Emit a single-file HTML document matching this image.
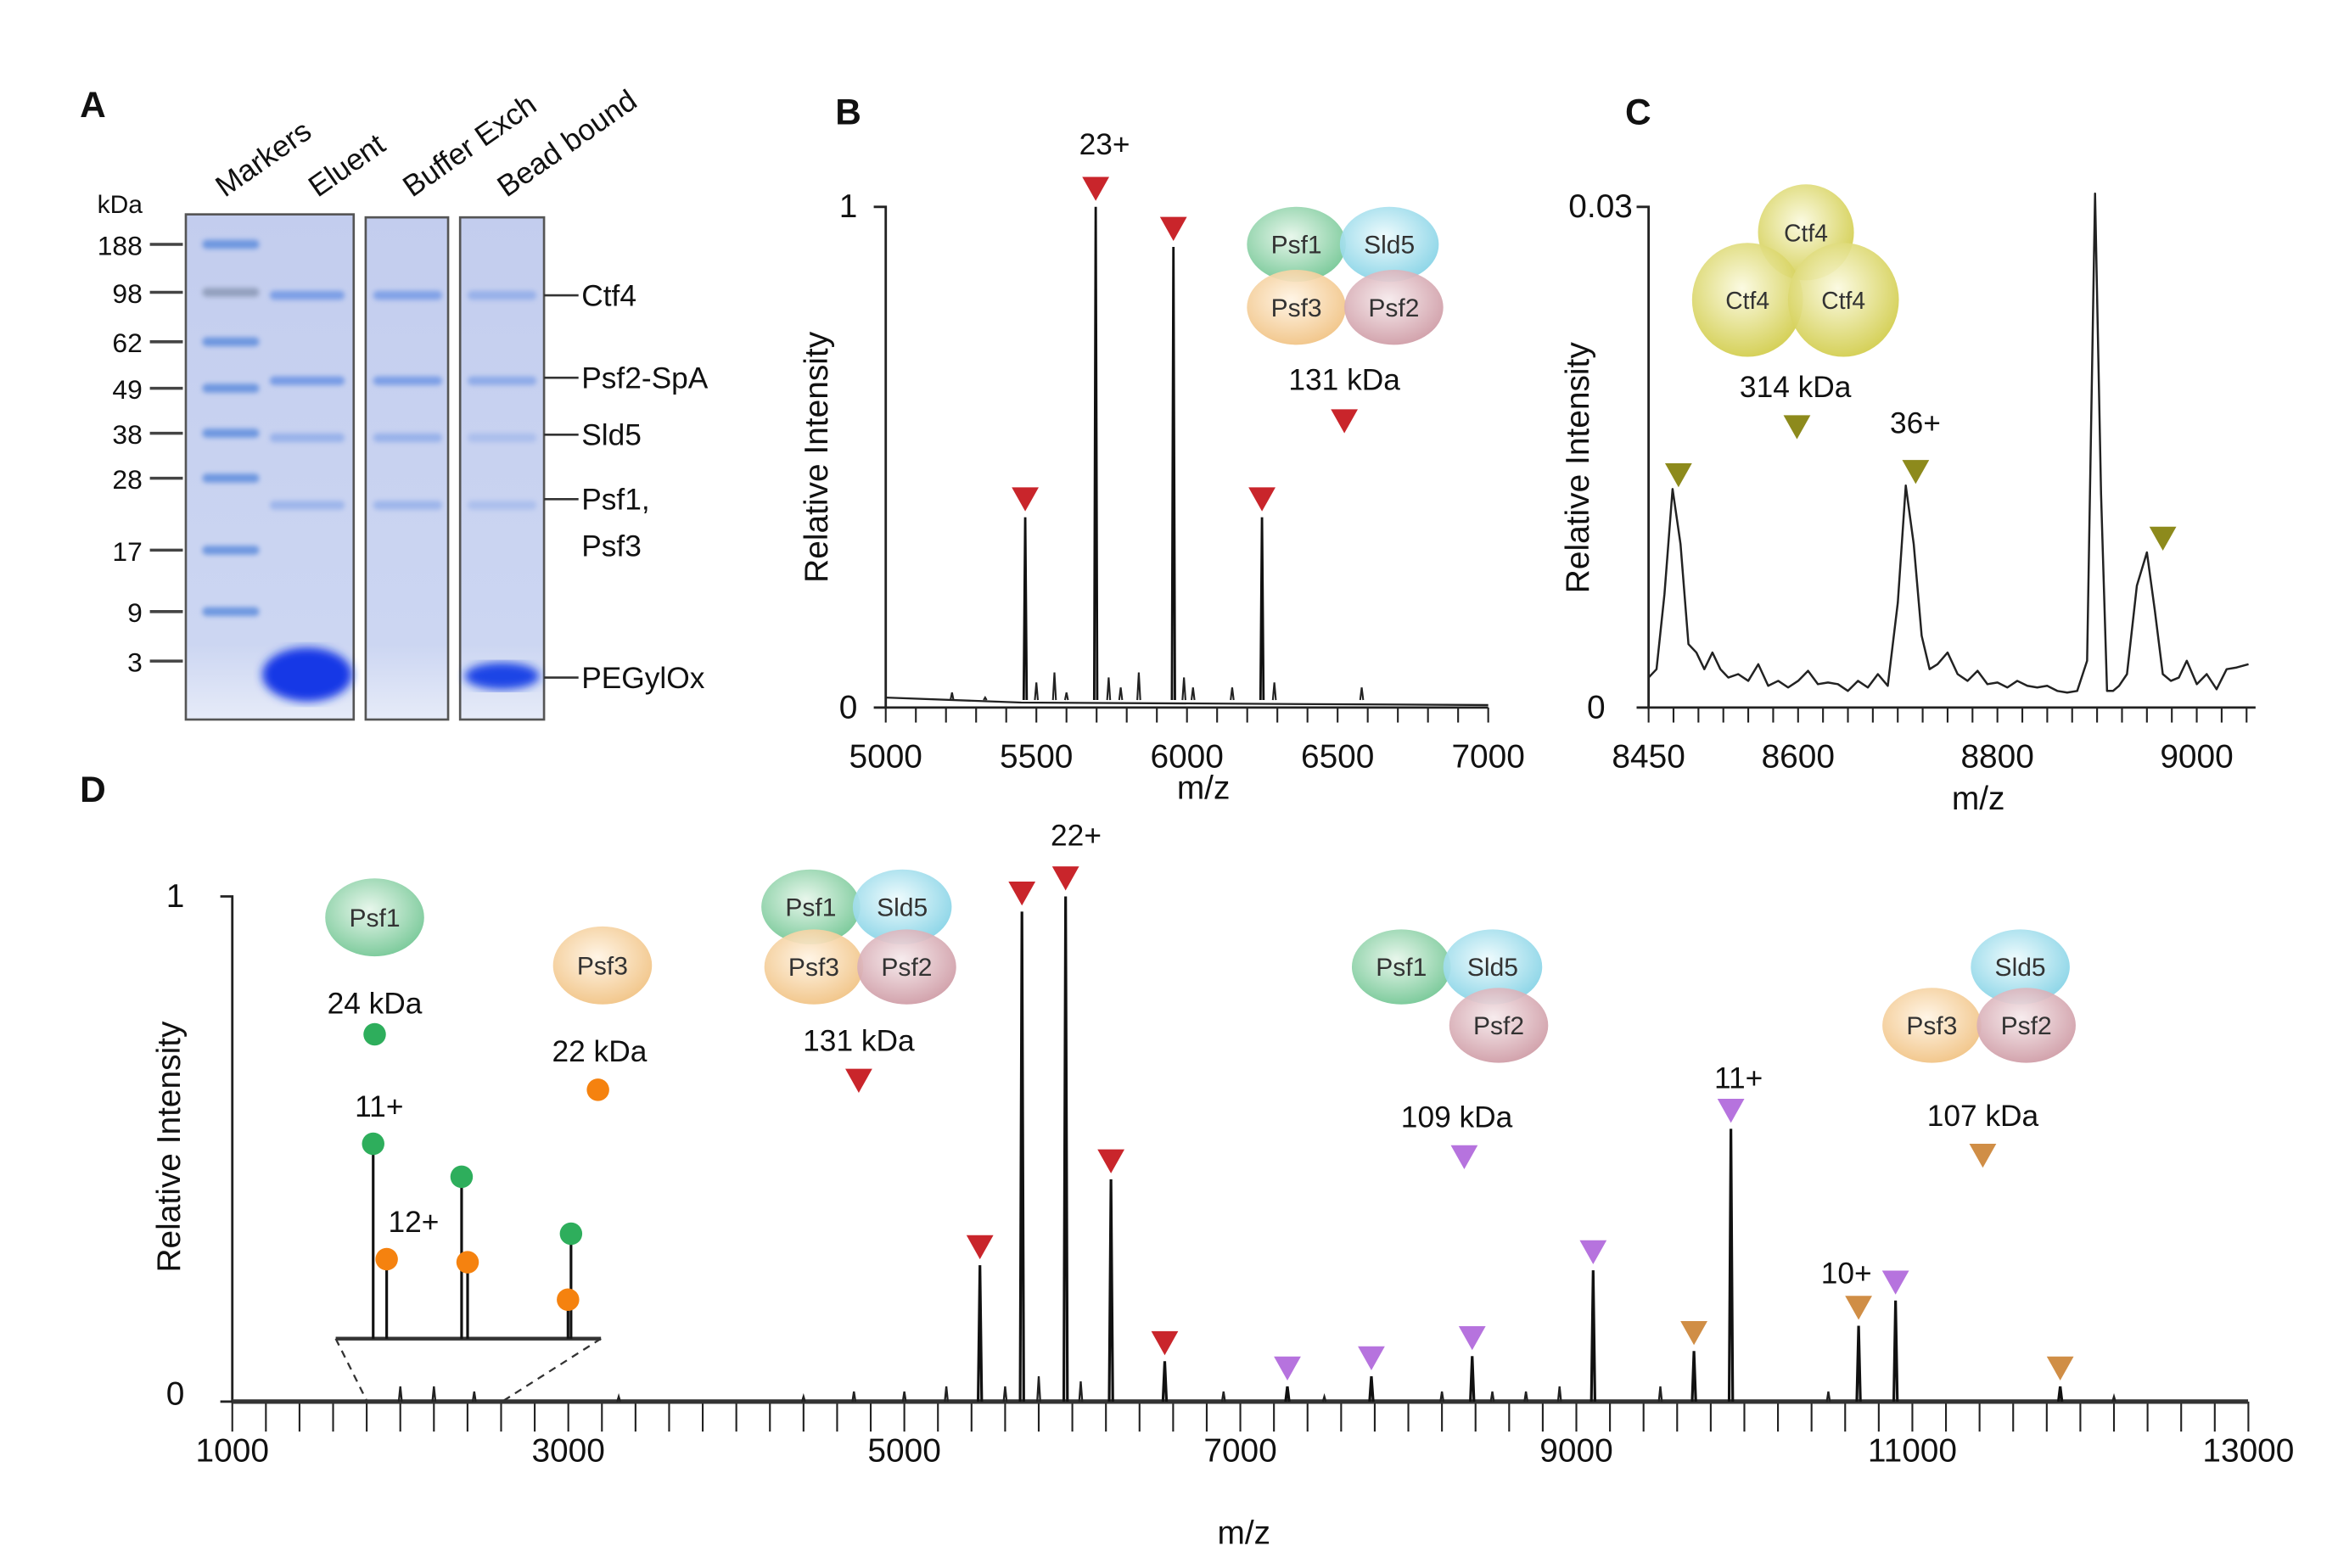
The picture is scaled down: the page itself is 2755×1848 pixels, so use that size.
<!DOCTYPE html>
<html><head><meta charset="utf-8"><style>
html,body{margin:0;padding:0;background:#fff;}
svg{display:block;font-family:"Liberation Sans",Arial,sans-serif;}
</style></head><body>
<svg id="fig" width="2755" height="1848" viewBox="0 0 1560 1046" preserveAspectRatio="none" xmlns="http://www.w3.org/2000/svg">
<defs>
<linearGradient id="gel" x1="0" y1="0" x2="0" y2="1"><stop offset="0" stop-color="#c3cdee"/><stop offset="0.85" stop-color="#ccd6f2"/><stop offset="1" stop-color="#e6ebf8"/></linearGradient>
<filter id="blur" x="-20%" y="-100%" width="140%" height="300%"><feGaussianBlur stdDeviation="1.6"/></filter>
<filter id="blur2"><feGaussianBlur stdDeviation="3"/></filter>
<radialGradient id="gPsf1" cx="0.45" cy="0.4" r="0.6"><stop offset="0" stop-color="#e6f6ea"/><stop offset="1" stop-color="#74c795"/></radialGradient>
<radialGradient id="gSld5" cx="0.45" cy="0.4" r="0.6"><stop offset="0" stop-color="#eefbfd"/><stop offset="1" stop-color="#86d3e6"/></radialGradient>
<radialGradient id="gPsf3" cx="0.45" cy="0.4" r="0.6"><stop offset="0" stop-color="#fff4e4"/><stop offset="1" stop-color="#f1c384"/></radialGradient>
<radialGradient id="gPsf2" cx="0.45" cy="0.4" r="0.6"><stop offset="0" stop-color="#f6eaec"/><stop offset="1" stop-color="#cf9ca6"/></radialGradient>
<radialGradient id="gCtf4" cx="0.45" cy="0.4" r="0.6"><stop offset="0" stop-color="#fbfae0"/><stop offset="1" stop-color="#d2cd4c"/></radialGradient>
</defs>
<g id="root"></g>
</svg>
<script>
// ---------- DATA ----------
// Panel A gel
const kdaLabels = ["188","98","62","49","38","28","17","9","3"];
const kdaY = [163,195,228,259,289,319,367,408,441];
const laneNames = ["Markers","Eluent","Buffer Exch","Bead bound"];
const bandNames = ["Ctf4","Psf2-SpA","Sld5","Psf1,","Psf3","PEGylOx"];
// Panel B
const bMz = [5463,5697,5955,6249];
const bInt = [0.38,1.0,0.92,0.38];
const bMinorMz = [5220,5330,5500,5560,5600,5740,5780,5840,5990,6020,6150,6290,6580];
const bMinorInt = [0.03,0.02,0.05,0.07,0.03,0.06,0.04,0.07,0.06,0.04,0.04,0.05,0.04];
const bTicks = [5000,5500,6000,6500,7000];
// Panel C
const cMz = [8450,8458,8466,8474,8482,8490,8498,8506,8514,8522,8530,8540,8550,8560,8570,8580,8590,8600,8610,8620,8630,8640,8650,8660,8670,8680,8690,8700,8708,8716,8724,8732,8740,8750,8760,8770,8780,8790,8800,8810,8820,8830,8840,8850,8860,8870,8880,8890,8898,8904,8910,8916,8922,8930,8940,8950,8958,8966,8974,8982,8990,9000,9010,9020,9030,9040,9052];
const cInt = [0.001,0.0015,0.006,0.0123,0.009,0.003,0.0025,0.0015,0.0025,0.0015,0.001,0.0012,0.0008,0.0018,0.0005,0.0008,0.0004,0.0008,0.0014,0.0006,0.0007,0.0006,0.0002,0.0008,0.0004,0.0012,0.0005,0.0055,0.0125,0.009,0.0035,0.0015,0.0018,0.0025,0.0012,0.0008,0.0014,0.0006,0.0007,0.0004,0.0008,0.0005,0.0004,0.0005,0.0002,0.0001,0.0002,0.002,0.03,0.012,0.0002,0.0002,0.0005,0.0012,0.0065,0.0085,0.005,0.0012,0.0008,0.001,0.002,0.0006,0.0012,0.0003,0.0015,0.0016,0.0018];
const cPeakMz = [8480,8718,8966];
const cPeakInt = [0.0123,0.0125,0.0085];
const cTicks = [8450,8600,8800,9000];
// Panel D
const dRedMz = [5450,5700,5960,6230,6550];
const dRedInt = [0.27,0.97,1.0,0.44,0.08];
const dPurMz = [7280,7780,8380,9100,9920,10900];
const dPurInt = [0.03,0.05,0.09,0.26,0.54,0.2];
const dTanMz = [9700,10680,11880];
const dTanInt = [0.1,0.15,0.03];
const dMinorMz = [2000,2200,2440,3300,4400,4700,5000,5250,5600,5800,6050,6900,7500,8200,8500,8700,8900,9500,10500,12200];
const dMinorInt = [0.03,0.03,0.02,0.01,0.01,0.02,0.02,0.03,0.03,0.05,0.04,0.02,0.01,0.02,0.02,0.02,0.03,0.03,0.02,0.01];
const dTicks = [1000,3000,5000,7000,9000,11000,13000];
// inset (relative heights of zoomed region, 0..1 over inset)
const inGreenX = [249,308,381];
const inGreenTop = [763,785,823];
const inOrangeX = [258,312,379];
const inOrangeTop = [840,842,867];

// ---------- HELPERS ----------
const NS="http://www.w3.org/2000/svg";
const root=document.getElementById('root');
function el(tag,attrs,parent,text){const e=document.createElementNS(NS,tag);for(const k in attrs)e.setAttribute(k,attrs[k]);if(text!==undefined)e.textContent=text;(parent||root).appendChild(e);return e;}
function txt(x,y,s,size,name,extra){const t=el('text',Object.assign({x:x,y:y,'font-size':size,fill:'#111','text-anchor':'middle'},extra||{}),null,s);


return t;}
function tri(x,yTip,color,name){const p=el('path',{d:`M${x-9},${yTip-16} L${x+9},${yTip-16} L${x},${yTip} Z`,fill:color});


return p;}
function blob(x,y,rx,ry,label,grad,size){const g=el('g',{});


el('ellipse',{cx:x,cy:y,rx:rx,ry:ry,fill:'url(#'+grad+')',opacity:0.92},g);
el('text',{x:x,y:y+6,'font-size':size||17,'text-anchor':'middle',fill:'#333','textLength':'','transform':''},g,label);
return g;}

// ---------- PANEL A ----------
txt(62,78,"A",24,'panel-a-label',{'font-weight':'bold'});
txt(80,142,"kDa",17,'kda-label');
kdaLabels.forEach((k,i)=>{
  const t=txt(95,kdaY[i]+7,k,18,'kda-tick-label',{'text-anchor':'end'});
  const l=el('line',{x1:100,y1:kdaY[i],x2:122,y2:kdaY[i],stroke:'#444','stroke-width':2});
  
  
});
const boxes=[[124,143,112,337],[244,145,55,335],[307,145,56,335]];
boxes.forEach((b,i)=>{const r=el('rect',{x:b[0],y:b[1],width:b[2],height:b[3],fill:'url(#gel)',stroke:'#555','stroke-width':1.5});

});
// marker bands
kdaY.forEach((y,i)=>{if(i===8)return;const b=el('rect',{x:135,y:y-3,width:38,height:6,rx:3,fill:i===1?'#8a98b5':'#5f8ddd',filter:'url(#blur)',opacity:0.85});

});
const bandY=[197,254,292,337];
const lanes=[[180,50,[0.8,0.85,0.5,0.45]],[249,46,[0.75,0.8,0.5,0.45]],[312,46,[0.5,0.6,0.3,0.3]]];
lanes.forEach(l=>{bandY.forEach((y,j)=>{const b=el('rect',{x:l[0],y:y-3,width:l[1],height:6,rx:3,fill:'#6a93e4',opacity:l[2][j],filter:'url(#blur)'});

});});
const bl1=el('ellipse',{cx:205,cy:450,rx:30,ry:18,fill:'#1438e6',filter:'url(#blur2)'});


const bl2=el('ellipse',{cx:335,cy:451,rx:25,ry:9,fill:'#1a44e6',filter:'url(#blur2)'});


const laneX=[150,212,275,338];
laneNames.forEach((n,i)=>{txt(laneX[i],132,n,20,'lane-label',{'text-anchor':'start',transform:`rotate(-35 ${laneX[i]} 132)`});});
const bandLabelY=[197,252,290,333,364,452];
bandNames.forEach((n,i)=>{txt(388,bandLabelY[i]+7,n,20,'band-label',{'text-anchor':'start'});
 if(i!==4){const l=el('line',{x1:363,y1:bandLabelY[i],x2:386,y2:bandLabelY[i],stroke:'#333','stroke-width':1.5});
 
 }});

// ---------- generic axes ----------
function axes(x0,x1,y0,y1,ticks,sx,minorStep,minorFrom,minorTo,nameP,tickLen){
  const a=el('path',{d:`M${x0-8},${y1} L${x0},${y1} L${x0},${y0} L${x1},${y0}`,fill:'none',stroke:'#222','stroke-width':1.6});
  
  
  const l=el('line',{x1:x0-8,y1:y0,x2:x0,y2:y0,stroke:'#222','stroke-width':1.6});
  for(let v=minorFrom;v<=minorTo+1e-6;v+=minorStep){const X=sx(v);const t=el('line',{x1:X,y1:y0,x2:X,y2:y0+(tickLen||10),stroke:'#222','stroke-width':1.2});
  
  }
  ticks.forEach(v=>{txt(sx(v),y0+40,String(v),22,nameP+'-x-tick-label');});
}
function spikes(mz,int,sx,sy,y0,w){let d='';mz.forEach((m,i)=>{const X=sx(m);d+=`M${X-w},${y0} L${X},${sy(int[i])} L${X+w},${y0} `;});return d;}

// ---------- PANEL B ----------
const bx=v=>591+(v-5000)*0.201, by=v=>472-v*334;
txt(566,83,"B",24,'panel-b-label',{'font-weight':'bold'});
axes(591,993,472,138,bTicks,bx,100,5000,7000,'b');
txt(566,145,"1",22,'b-y-tick-1');txt(566,479,"0",22,'b-y-tick-0');
txt(0,0,"Relative  Intensity",22,'b-y-axis-title',{transform:'translate(552,305) rotate(-90)'});
txt(803,533,"m/z",22,'b-x-axis-title');
let bd=`M591,${by(0.02)} L${bx(5450)},${by(0.01)} L${bx(7000)},${by(0.005)} `;
const bBase=el('path',{d:bd,fill:'none',stroke:'#222','stroke-width':1.3});


const bMin=el('path',{d:spikes(bMinorMz,bMinorInt,bx,by,by(0.015),1),fill:'none',stroke:'#222','stroke-width':1.2});


const bPk=el('path',{d:spikes(bMz,bInt,bx,by,by(0.015),1),fill:'none',stroke:'#111','stroke-width':1.6});


bMz.forEach((m,i)=>tri(bx(m),by(bInt[i])-4,'#c9252b','b-peak-marker'));
txt(737,103,"23+",20,'b-charge-label');
blob(865,163,33,25,"Psf1","gPsf1");blob(927,163,33,25,"Sld5","gSld5");
blob(865,205,33,25,"Psf3","gPsf3");blob(930,205,33,25,"Psf2","gPsf2");
txt(897,260,"131 kDa",20,'b-mass-label');tri(897,289,'#c9252b','b-legend-marker');

// ---------- PANEL C ----------
const cx=v=>1100+(v-8450)*0.665, cy=v=>472-v/0.03*334;
txt(1093,83,"C",24,'panel-c-label',{'font-weight':'bold'});
axes(1100,1505,472,138,cTicks,cx,25,8450,9050,'c');
txt(1068,145,"0.03",22,'c-y-tick-max');txt(1065,479,"0",22,'c-y-tick-0');
txt(0,0,"Relative  Intensity",22,'c-y-axis-title',{transform:'translate(1060,312) rotate(-90)'});
txt(1320,540,"m/z",22,'c-x-axis-title');
let cd='';cMz.forEach((m,i)=>{cd+=(i?'L':'M')+cx(m).toFixed(1)+','+cy(cInt[i]+0.0008).toFixed(1)+' ';});
const cTr=el('path',{d:cd,fill:'none',stroke:'#222','stroke-width':1.4,'stroke-linejoin':'round'});


cPeakMz.forEach((m,i)=>tri(cx(m),cy(cPeakInt[i])-10,'#8d8a1c','c-peak-marker'));
tri(1199,293,'#8d8a1c','c-legend-marker');
txt(1198,265,"314 kDa",20,'c-mass-label');txt(1278,289,"36+",20,'c-charge-label');
blob(1205,155,32,32,"Ctf4","gCtf4",16);blob(1166,200,37,38,"Ctf4","gCtf4",16);blob(1230,200,37,38,"Ctf4","gCtf4",16);

// ---------- PANEL D ----------
const dx=v=>155+(v-1000)*0.1121, dy=v=>935-v*337;
txt(62,535,"D",24,'panel-d-label',{'font-weight':'bold'});
axes(155,1500,935,598,dTicks,dx,200,1000,13000,'d',20);
txt(117,605,"1",22,'d-y-tick-1');txt(117,937,"0",22,'d-y-tick-0');
txt(0,0,"Relative  Intensity",22,'d-y-axis-title',{transform:'translate(120,765) rotate(-90)'});
txt(830,1030,"m/z",22,'d-x-axis-title');
const dBase=el('line',{x1:155,y1:935,x2:1500,y2:935,stroke:'#333','stroke-width':3});


const dMin=el('path',{d:spikes(dMinorMz,dMinorInt,dx,dy,935,1),fill:'none',stroke:'#222','stroke-width':1.3});


[[dRedMz,dRedInt,'#c9252b','red'],[dPurMz,dPurInt,'#b673de','purple'],[dTanMz,dTanInt,'#d08e46','tan']].forEach(s=>{
  const p=el('path',{d:spikes(s[0],s[1],dx,dy,935,1.2),fill:'none',stroke:'#111','stroke-width':1.8});
  
  
  s[0].forEach((m,i)=>tri(dx(m),dy(s[1][i])-4,s[2],'d-peak-marker-'+s[3]));
});
txt(718,564,"22+",20,'d-charge-22');txt(1160,726,"11+",20,'d-charge-11');txt(1232,856,"10+",20,'d-charge-10');
// inset
const inAx=el('line',{x1:224,y1:893,x2:401,y2:893,stroke:'#333','stroke-width':2.5});


const dash=el('path',{d:'M224,893 L245,935 M401,893 L335,935',stroke:'#333','stroke-width':1.3,'stroke-dasharray':'5,4',fill:'none'});


inGreenX.forEach((x,i)=>{const l=el('line',{x1:x,y1:893,x2:x,y2:inGreenTop[i],stroke:'#111','stroke-width':1.8});

const c=el('circle',{cx:x,cy:inGreenTop[i],r:7.5,fill:'#2eae5c'});
});
inOrangeX.forEach((x,i)=>{const l=el('line',{x1:x,y1:893,x2:x,y2:inOrangeTop[i],stroke:'#111','stroke-width':1.8});

const c=el('circle',{cx:x,cy:inOrangeTop[i],r:7.5,fill:'#f5820f'});
});
txt(253,745,"11+",20,'inset-charge-11');txt(276,822,"12+",20,'inset-charge-12');
blob(250,612,33,26,"Psf1","gPsf1");txt(250,676,"24 kDa",20,'psf1-mass');
const g1=el('circle',{cx:250,cy:690,r:7.5,fill:'#2eae5c'});
blob(402,644,33,26,"Psf3","gPsf3");txt(400,708,"22 kDa",20,'psf3-mass');
const o1=el('circle',{cx:399,cy:727,r:7.5,fill:'#f5820f'});
blob(541,605,33,25,"Psf1","gPsf1");blob(602,605,33,25,"Sld5","gSld5");blob(543,645,33,25,"Psf3","gPsf3");blob(605,645,33,25,"Psf2","gPsf2");
txt(573,701,"131 kDa",20,'d-131-mass');tri(573,729,'#c9252b','d-131-legend-marker');
blob(935,645,33,25,"Psf1","gPsf1");blob(996,645,33,25,"Sld5","gSld5");blob(1000,684,33,25,"Psf2","gPsf2");
txt(972,752,"109 kDa",20,'d-109-mass');tri(977,780,'#b673de','d-109-legend-marker');
blob(1348,645,33,25,"Sld5","gSld5");blob(1289,684,33,25,"Psf3","gPsf3");blob(1352,684,33,25,"Psf2","gPsf2");
txt(1323,751,"107 kDa",20,'d-107-mass');tri(1323,779,'#d08e46','d-107-legend-marker');
</script>
</body></html>
